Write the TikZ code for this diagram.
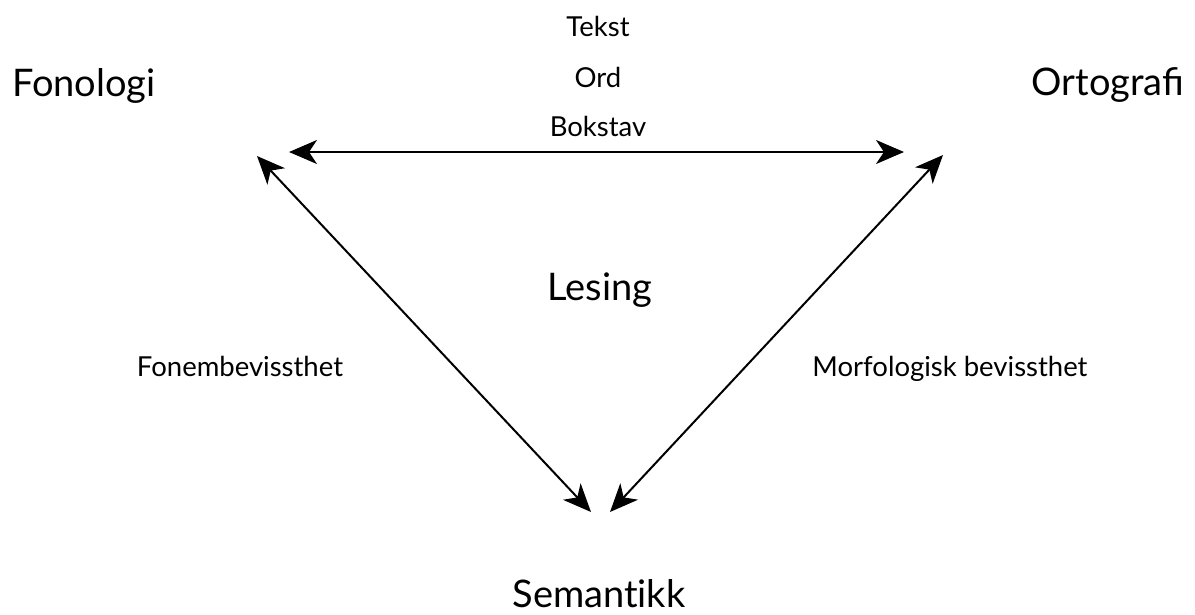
\documentclass[tikz,border=0pt]{standalone}
\usepackage{fontspec}
\setmainfont{Lato}
\usetikzlibrary{arrows.meta}
\begin{document}
\begin{tikzpicture}[x=1pt,y=-1pt,
  big/.style={font=\fontsize{38}{42}\selectfont,anchor=base,inner sep=0pt},
  mid/.style={font=\fontsize{27.5}{30}\selectfont,anchor=base,inner sep=0pt},
  conn/.style={line width=2pt,{Stealth[length=28pt,width=24pt,inset=8pt]}-{Stealth[length=28pt,width=24pt,inset=8pt]}}]
\useasboundingbox (0,0) rectangle (1195,614);
\node[big] (fon) at (84,96) {Fonologi};
\node[big] (ort) at (1108,95) {Ortografi};
\node[big] (les) at (600,300) {Lesing};
\node[big] (sem) at (599,607) {Semant\kern0pt ikk};
\node[mid] (tek) at (598,36.5) {Tekst};
\node[mid] (ord) at (598,87) {Ord};
\node[mid] (bok) at (598,136.5) {Bokstav};
\node[mid] (fb) at (240,376.5) {Fonembevissthet};
\node[mid] (mb) at (950,376.5) {Morfologisk bevissthet};
\coordinate (hl) at (289,152);
\coordinate (hr) at (904,152);
\coordinate (ltop) at (257,156);
\coordinate (lbot) at (591,512);
\coordinate (rtop) at (943,155);
\coordinate (rbot) at (610,512);
\draw[conn] (hl) -- (hr);
\draw[conn] (ltop) -- (lbot);
\draw[conn] (rtop) -- (rbot);
\end{tikzpicture}
\end{document}
